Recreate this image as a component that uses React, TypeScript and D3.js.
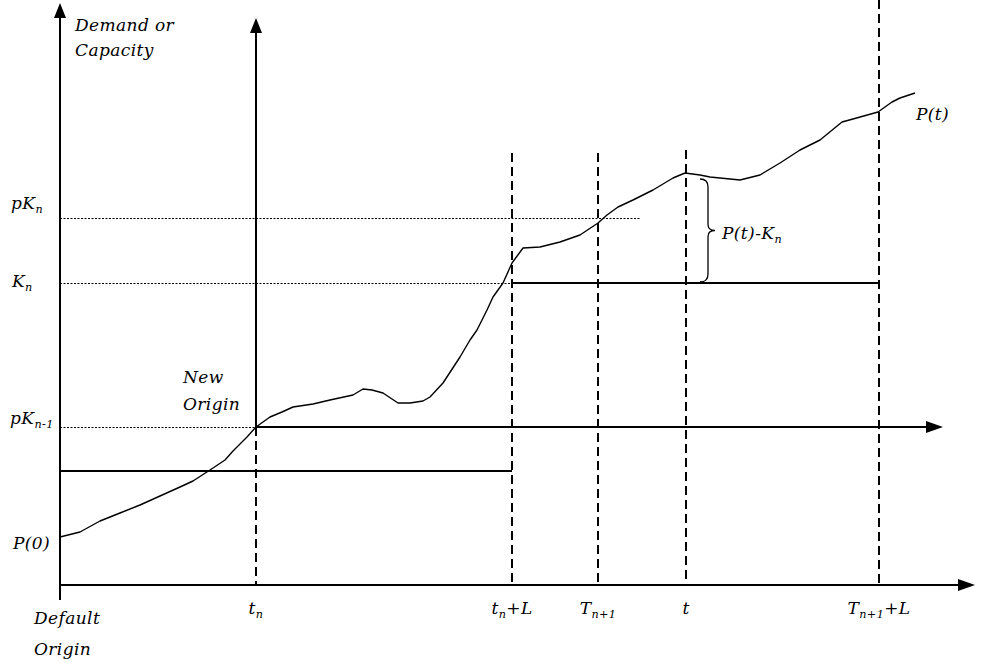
import React from "react";
import * as d3 from "d3";

// Demand curve P(t): time and demand samples
const demandT = [0, 4, 8, 12, 16, 20, 24, 26.6, 30, 33, 34.6, 37.4, 39.2, 42, 44.4, 46.6, 50.6, 54, 58.6, 60.6, 62.4, 64.6, 67.6, 70, 72.6, 74, 76.6, 80, 82, 83.4, 85.4, 86.6, 88.6, 90.4, 92.6, 96, 100, 104, 107.6, 109.4, 111.6, 114.6, 118.6, 122.6, 125, 128, 130, 136, 140, 144, 148, 152, 156.4, 158.6, 163.6, 166.4, 168, 171];
const demandP = [9.6, 10.6, 12.8, 14.4, 16, 17.8, 19.6, 20.8, 23, 25, 26.8, 29.6, 31.6, 33.6, 34.6, 35.6, 36.2, 37, 38, 39.2, 39, 38.4, 36.4, 36.4, 36.8, 37.6, 40.4, 45.6, 49, 51, 55, 57.6, 60.4, 64.4, 67.4, 67.6, 68.6, 70, 72.4, 74, 75.6, 77, 79, 81.4, 82.4, 82, 81.6, 81, 82, 84.4, 87, 89, 92.6, 93.2, 94.6, 96.6, 97.4, 98.4];

// Key instants on the time axis
const T_N = 39.2; // t_n
const T_N_L = 90.4; // t_n + L
const T_N1 = 107.6; // T_{n+1}
const T_NOW = 125.2; // t
const T_N1_L = 163.8; // T_{n+1} + L
const T_MAX = 183;

// Capacity levels
const P_K_N = 73.4; // pK_n
const K_N = 60.4; // K_n
const P_K_N1 = 31.6; // pK_{n-1}
const K_N1 = 22.8; // K_{n-1}
const V_MAX = 116;

const FONT = "'DejaVu Serif', serif";
const FS = 17;
const LS = 0.4;

const xScale = d3.scaleLinear().domain([0, T_MAX]).range([60, 975]);
const yScale = d3.scaleLinear().domain([0, V_MAX]).range([585, 5]);

function Sub({ base, sub, x, y, anchor = "start" }: any) {
  return (
    <text x={x} y={y} textAnchor={anchor} fontFamily={FONT} fontStyle="italic" fontSize={FS} letterSpacing={LS} fill="#000">
      {base}
      <tspan dy={4} fontSize={FS * 0.66}>{sub}</tspan>
    </text>
  );
}

function Label({ x, y, children, anchor = "start" }: any) {
  return (
    <text x={x} y={y} textAnchor={anchor} fontFamily={FONT} fontStyle="italic" fontSize={FS} letterSpacing={LS} fill="#000">
      {children}
    </text>
  );
}

function arrowUp(x: number, tipY: number) {
  return `M${x},${tipY} L${x - 6},${tipY + 15} L${x + 6},${tipY + 15} Z`;
}
function arrowRight(tipX: number, y: number) {
  return `M${tipX},${y} L${tipX - 17},${y - 6} L${tipX - 17},${y + 6} Z`;
}

export default function App() {
  const line = d3
    .line<number>()
    .x((_, i) => xScale(demandT[i]))
    .y((d) => yScale(d))
    .curve(d3.curveLinear);
  const curvePath = line(demandP) || "";

  const x0 = xScale(0);
  const y0 = yScale(0);
  const xn = xScale(T_N);
  const yOrigin = yScale(P_K_N1);
  const yTopMain = yScale(V_MAX) - 2;
  const yTopNew = yScale(113.4);
  const xEndMain = xScale(T_MAX);
  const xEndNew = xScale(176.6);

  // brace between K_n and P(t)
  const bx = xScale(T_NOW) + 14;
  const bTop = yScale(81.2);
  const bBot = yScale(K_N) - 1;
  const bMid = (bTop + bBot) / 2;
  const brace = `M${bx},${bTop} Q${bx + 8},${bTop} ${bx + 8},${bTop + 8} L${bx + 8},${bMid - 6} Q${bx + 8},${bMid} ${bx + 15},${bMid} Q${bx + 8},${bMid} ${bx + 8},${bMid + 6} L${bx + 8},${bBot - 8} Q${bx + 8},${bBot} ${bx},${bBot}`;

  const dashed = (t: number, vTop: number, vBot = 0) => (
    <line
      key={`d${t}`}
      x1={xScale(t)}
      x2={xScale(t)}
      y1={yScale(vTop)}
      y2={yScale(vBot)}
      stroke="#000"
      strokeWidth={2}
      strokeDasharray="9,5"
    />
  );
  // dotted guide, snapped to the pixel grid so it stays crisp
  const dotted = (v: number, t0: number, t1: number) => {
    const y = Math.round(yScale(v)) + 0.5;
    return (
      <line
        key={`o${v}`}
        x1={xScale(t0)}
        x2={xScale(t1)}
        y1={y}
        y2={y}
        stroke="#000"
        strokeWidth={1}
        strokeDasharray="2,1.5"
      />
    );
  };

  return (
    <svg
      width={989}
      height={663}
      style={{ position: "absolute", left: 0, top: 0, background: "#fff" }}
    >
      <rect width={989} height={663} fill="#fff" />

      {/* reference levels */}
      {dotted(P_K_N, 0, 116)}
      {dotted(K_N, 0, T_N_L)}
      {dotted(P_K_N1, 0, T_N)}

      {/* vertical markers */}
      {dashed(T_N, P_K_N1)}
      {dashed(T_N_L, 86.4)}
      {dashed(T_N1, 86.4)}
      {dashed(T_NOW, 87)}
      {dashed(T_N1_L, V_MAX + 1)}

      {/* capacity steps */}
      <line x1={x0} x2={xScale(T_N_L)} y1={yScale(K_N1)} y2={yScale(K_N1)} stroke="#000" strokeWidth={2} />
      <line x1={xScale(T_N_L)} x2={xScale(T_N1_L)} y1={yScale(K_N)} y2={yScale(K_N)} stroke="#000" strokeWidth={2} />

      {/* default axes */}
      <line x1={x0} x2={x0} y1={y0 + 15} y2={yTopMain + 10} stroke="#000" strokeWidth={2} />
      <path d={arrowUp(x0, yTopMain)} fill="#000" />
      <line x1={x0} x2={xEndMain - 10} y1={y0} y2={y0} stroke="#000" strokeWidth={2} />
      <path d={arrowRight(xEndMain, y0)} fill="#000" />

      {/* new-origin axes */}
      <line x1={xn} x2={xn} y1={yOrigin} y2={yTopNew + 10} stroke="#000" strokeWidth={2} />
      <path d={arrowUp(xn, yTopNew)} fill="#000" />
      <line x1={xn} x2={xEndNew - 10} y1={yOrigin} y2={yOrigin} stroke="#000" strokeWidth={2} />
      <path d={arrowRight(xEndNew, yOrigin)} fill="#000" />

      {/* demand curve */}
      <path d={curvePath} fill="none" stroke="#000" strokeWidth={1.4} strokeLinejoin="round" />

      {/* brace */}
      <path d={brace} fill="none" stroke="#000" strokeWidth={1.3} />

      {/* labels */}
      <Label x={75} y={31}>Demand or</Label>
      <Label x={75} y={56}>Capacity</Label>

      <Sub base="pK" sub="n" x={11} y={209} />
      <Sub base="K" sub="n" x={12} y={287} />
      <Sub base="pK" sub="n-1" x={10} y={424} />
      <Label x={13} y={549}>P(0)</Label>

      <Label x={183} y={383}>New</Label>
      <Label x={183} y={410}>Origin</Label>

      <Label x={34} y={624}>Default</Label>
      <Label x={34} y={655}>Origin</Label>

      <Sub base="t" sub="n" x={xScale(T_N)} y={614} anchor="middle" />
      <text x={xScale(T_N_L)} y={614} textAnchor="middle" fontFamily={FONT} fontStyle="italic" fontSize={FS} letterSpacing={LS}>
        t<tspan dy={4} fontSize={FS * 0.66}>n</tspan>
        <tspan dy={-4}>+L</tspan>
      </text>
      <Sub base="T" sub="n+1" x={xScale(T_N1)} y={614} anchor="middle" />
      <Label x={xScale(T_NOW)} y={614} anchor="middle">t</Label>
      <text x={xScale(T_N1_L)} y={614} textAnchor="middle" fontFamily={FONT} fontStyle="italic" fontSize={FS} letterSpacing={LS}>
        T<tspan dy={4} fontSize={FS * 0.66}>n+1</tspan>
        <tspan dy={-4}>+L</tspan>
      </text>

      <text x={bx + 22} y={239} fontFamily={FONT} fontStyle="italic" fontSize={FS} letterSpacing={LS}>
        P(t)-K<tspan dy={4} fontSize={FS * 0.66}>n</tspan>
      </text>
      <Label x={916} y={120}>P(t)</Label>
    </svg>
  );
}
